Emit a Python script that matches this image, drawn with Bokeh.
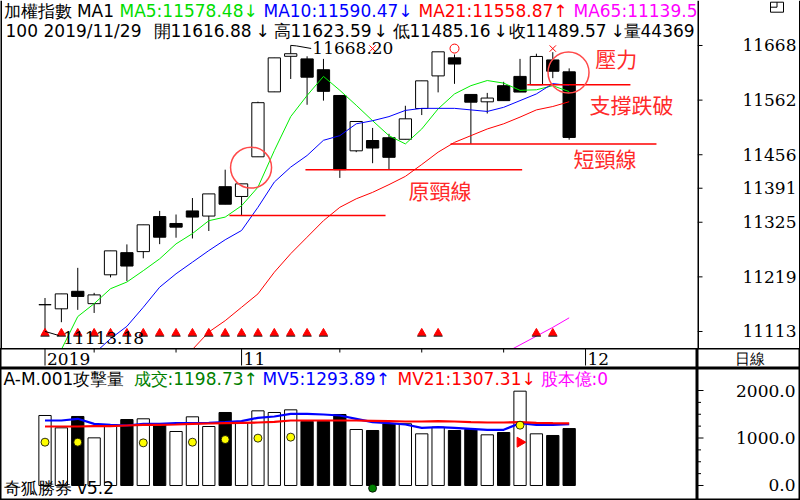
import numpy as np
from bokeh.plotting import figure
from bokeh.layouts import column, row
from bokeh.models import Range1d, Label, Span, ColumnDataSource
from bokeh.embed import file_html
from bokeh.resources import INLINE
from bokeh.core.properties import value

# ---------------- data ----------------
day_idx = list(range(33))          # trading days, last one = 2019/11/29
opens = [11165, 11157, 11191, 11167, 11223, 11266, 11268, 11336, 11322.6, 11347,
         11337, 11394, 11375, 11452, 11578, 11647, 11642, 11621, 11571, 11463.6,
         11483.6, 11489, 11486, 11545.7, 11609, 11644, 11573, 11558.7, 11590, 11608,
         11591.7, 11640, 11616.88]
highs = [11178, 11186, 11236.5, 11188, 11269.5, 11282, 11320, 11347, 11340, 11372,
         11380, 11427, 11399.5, 11559, 11644, 11668.20, 11647, 11642, 11571, 11520.5,
         11508, 11496.6, 11551, 11599.4, 11655.7, 11650.5, 11573, 11576, 11597.5, 11642,
         11652, 11655, 11623.59]
lows = [11113.18, 11131, 11155, 11149, 11218, 11211, 11255, 11282.5, 11295, 11293.5,
        11308, 11360, 11338, 11452, 11578, 11603, 11553, 11561, 11411, 11461,
        11439.6, 11427, 11486, 11533, 11577, 11593.6, 11477, 11536, 11561, 11577.6,
        11591.7, 11604.6, 11485.16]
closes = [11165, 11186, 11181, 11184, 11269.5, 11240, 11320, 11296, 11315.5, 11335,
          11380, 11360, 11399.5, 11557, 11644, 11652, 11606.5, 11579, 11427, 11520.5,
          11469, 11451, 11525.7, 11599.4, 11655.7, 11632, 11558, 11566, 11561, 11577.6,
          11646.7, 11618, 11489.57]
ma5 = [None, 11078, 11142, 11167, 11196, 11209, 11231, 11254, 11283, 11303,
       11328, 11335, 11357, 11393, 11464, 11530, 11571, 11608, 11581, 11552,
       11522, 11493, 11477, 11506, 11545, 11574, 11590, 11600, 11595, 11581,
       11582, 11590, 11578.48]
ma10 = [None, None, None, 11070, 11099, 11123, 11160, 11199, 11225, 11247.5,
        11270, 11291, 11309, 11354, 11403, 11432, 11454.5, 11484, 11493, 11516,
        11522, 11530, 11542, 11546, 11546, 11546, 11543, 11540, 11548, 11561,
        11574, 11594, 11590.47]
ma21 = [None] * 9 + [11078, 11112, 11134, 11160, 11186, 11228, 11264, 11296, 11328,
                     11354, 11370.5, 11383, 11398, 11414, 11437, 11461, 11480, 11493,
                     11506, 11516, 11529, 11543, 11549.6, 11558.87]
ma65 = [None] * 28 + [11070, 11087, 11104, 11121, 11139.5]

volume = [1474, 1214, 1453, 1003, 1249, 1389, 1404, 1284, 1137, 1446,
          1242, 1537, 1320, 1572, 1537, 1593, 1350, 1350, 1495, 1179,
          1158, 1298, 1300, 1088, 1228, 1158, 1179, 1067, 1116, 1986,
          1088, 1053, 1198.73]
mv5 = [1368, 1368, 1404, 1298, 1277, 1263, 1298, 1298, 1312, 1312,
       1319, 1333, 1354, 1425, 1453, 1509, 1509, 1495, 1474, 1404,
       1333, 1312, 1284, 1214, 1228, 1214, 1193, 1172, 1172, 1312,
       1277, 1277, 1293.89]
mv21 = [1242, 1242, 1242, 1249, 1249, 1263, 1277, 1277, 1284, 1298,
        1305, 1312, 1319, 1326, 1340, 1368, 1368, 1368, 1368, 1368,
        1361, 1354, 1347, 1347, 1354, 1347, 1333, 1326, 1326, 1333,
        1319, 1312, 1307.31]
yellow_idx = [0, 2, 6, 9, 11, 13, 15, 29]
yellow_val = [912, 912, 898, 912, 968, 997, 1018, 1270]
green_idx = [20]
green_val = [-57]
pointer_idx = [29]
pointer_val = [912]

price_ticks = [11113, 11219, 11325, 11391, 11456, 11562, 11668]
vol_ticks = [0, 1000, 2000]
vol_tick_text = ["0.0", "1000.0", "2000.0"]
vol_minor = [250, 500, 750, 1250, 1500, 1750]
date_tick_idx = [0, 3, 8, 12, 18, 23, 28, 33]
date_tick_text = ["2019", "", "", "11", "", "", "", "12"]

signal_idx = list(range(18)) + [23, 24, 30, 31]
x_mark_idx = [20, 31]
o_mark_idx = [25]

hl_start = [11.26, 15.9, 24.76, 29.44]
hl_end = [20.79, 29.13, 37.33, 35.74]
hl_level = [11338, 11427, 11477, 11592]
ann_text = ["壓力", "支撐跌破", "短頸線", "原頸線"]
ann_x = [33.6, 33.24, 32.26, 22.19]
ann_y = [11642.8, 11555.4, 11449.7, 11388.5]
ring_x = [12.58, 31.96]
ring_y = [11431, 11615.6]

hdr1_text = ["加權指數 MA1", "MA5:11578.48↓", "MA10:11590.47↓", "MA21:11558.87↑", "MA65:11139.5"]
hdr1_col = ["black", "#00dd00", "#0000ff", "#ff0000", "#ff00ff"]
hdr1_x = [3, 119, 263, 418, 573]
hdr2_text = ["100", "2019/11/29", "開11616.88", "↓", "高11623.59", "↓", "低11485.16", "↓",
             "收11489.57", "↓", "量44369"]
hdr2_x = [5, 43, 153, 255, 273, 373, 392, 493, 508, 610, 623]
vhdr_text = ["A-M.001攻擊量", "成交:1198.73↑", "MV5:1293.89↑", "MV21:1307.31↓", "股本億:0"]
vhdr_col = ["black", "#008000", "#0000ff", "#ff0000", "#ff00ff"]
vhdr_x = [3, 133, 262, 397, 540]

# ---------------- layout constants ----------------
W_L, W_R = 697, 103
H_M, H_D, H_V = 348, 20, 132
FS = "17px"
SANS = "DejaVu Sans"
SERIF = "DejaVu Serif"
CJK = "Noto Sans CJK TC"


def mkfig(w, h, xr, yr, outline=True):
    f = figure(width=w, height=h, x_range=xr, y_range=yr, title=None,
               output_backend="svg", toolbar_location=None, min_border=0,
               x_axis_location=None, y_axis_location=None,
               background_fill_color="white", border_fill_color="white")
    f.grid.visible = False
    f.outline_line_color = "black" if outline else None
    f.outline_line_width = 2
    f.extra_x_ranges = {"px": Range1d(0, w)}
    f.extra_y_ranges = {"px": Range1d(h, 0)}
    return f


def px_label(f, x, y, text, color="black", font=SANS, size=FS, align="left"):
    f.add_layout(Label(x=x, y=y, x_range_name="px", y_range_name="px", text=text,
                       text_color=color, text_font=font, text_font_size=size,
                       text_align=align, text_baseline="middle"))


xr = Range1d(-2.717, 39.835)
yr_main = Range1d(11080.0, 11755.3)
yr_vol = Range1d(-315.8, 2463.2)

# ---------------- main price panel ----------------
p = mkfig(W_L, H_M, xr, yr_main, outline=False)
p.add_layout(Span(location=-2.717, dimension="height", line_color="black", line_width=3))

src = ColumnDataSource(dict(
    x=day_idx, h=highs, l=lows,
    top=[max(o, c) for o, c in zip(opens, closes)],
    bot=[min(o, c) for o, c in zip(opens, closes)],
    fill=["white" if c >= o else "black" for o, c in zip(opens, closes)],
))
p.segment(x0="x", y0="l", x1="x", y1="h", source=src, line_color="black", line_width=1)
p.vbar(x="x", width=0.75, top="top", bottom="bot", fill_color="fill", line_color="black",
       line_width=1, source=src)

for ser, col in [(ma5, "#00ee00"), (ma10, "#0000ff"), (ma21, "#ff0000"), (ma65, "#ff00ff")]:
    p.line(day_idx, np.array(ser, dtype=float), line_color=col, line_width=1)

p.segment(x0=hl_start, y0=hl_level, x1=hl_end, y1=hl_level, line_color="#ff0000", line_width=1.5)
p.scatter(ring_x, ring_y, marker="circle", size=41, fill_color=None, line_color="#ff4a4a",
          line_width=1.5)
for t, x, y in zip(ann_text, ann_x, ann_y):
    p.add_layout(Label(x=x, y=y, text=t, text_color="#ff2a2a", text_font=CJK,
                       text_font_size="21px", text_baseline="middle"))

sig_y = [11110] * len(signal_idx)
p.scatter(signal_idx, sig_y, marker="triangle", size=8, fill_color="#ff0000", line_color="#ff0000")
p.scatter(signal_idx, [11104] * len(signal_idx), marker="dash", size=9, line_color="black", line_width=1)
p.scatter(x_mark_idx, [11662] * len(x_mark_idx), marker="x", size=9, line_color="#ff0000", line_width=1)
p.scatter(o_mark_idx, [11662] * len(o_mark_idx), marker="circle", size=9, fill_color=None,
          line_color="#ff0000", line_width=1)

hi_i = int(np.argmax(highs))
lo_i = int(np.argmin(lows))
p.line([hi_i, hi_i + 0.35, hi_i + 1.25], [highs[hi_i], highs[hi_i] - 1, highs[hi_i] - 6],
       line_color="black", line_width=1)
p.text([hi_i + 1.32], [highs[hi_i] - 5], text=[f"{highs[hi_i]:.2f}"], text_font=value(SERIF),
       text_font_size=FS, text_baseline="middle", text_color="black")
p.line([lo_i, lo_i + 0.85], [lows[lo_i], lows[lo_i] - 8], line_color="black", line_width=1)
p.text([lo_i + 1.1], [lows[lo_i] - 12], text=[f"{lows[lo_i]:.2f}"], text_font=value(SERIF),
       text_font_size=FS, text_baseline="middle", text_color="black")

for t, c, x in zip(hdr1_text, hdr1_col, hdr1_x):
    px_label(p, x, 10.8, t, color=c)
for t, x in zip(hdr2_text, hdr2_x):
    px_label(p, x, 30.3, t)

# right axis of price panel
pr = mkfig(W_R, H_M, Range1d(0, 103), yr_main, outline=False)
pr.add_layout(Span(location=0, dimension="height", line_color="black", line_width=3))
pr.add_layout(Span(location=103, dimension="height", line_color="black", line_width=3))
pr.segment(x0=[0] * len(price_ticks), y0=price_ticks, x1=[5] * len(price_ticks), y1=price_ticks,
           line_color="black", line_width=1)
pr.text([99] * len(price_ticks), price_ticks, text=[str(t) for t in price_ticks],
        text_font=value(SERIF), text_font_size=FS, text_align="right", text_baseline="middle",
        text_color="black")
# small window icon
pr.rect([79.5], [6.7], width=13, height=10, x_range_name="px", y_range_name="px",
        fill_color=None, line_color="black", line_width=1)
pr.segment(x0=[73, 79.5], y0=[6.7, 1.7], x1=[79.5, 79.5], y1=[6.7, 6.7], x_range_name="px",
           y_range_name="px", line_color="black", line_width=1)

# ---------------- date row ----------------
pdt = mkfig(W_L, H_D, xr, Range1d(20, 0))
tick_len = [17 if t else 4 for t in date_tick_text]
pdt.segment(x0=date_tick_idx, y0=[0] * len(date_tick_idx), x1=date_tick_idx, y1=tick_len,
            line_color="black", line_width=1)
lab_i = [i for i, t in zip(date_tick_idx, date_tick_text) if t]
lab_t = [t for t in date_tick_text if t]
pdt.text(lab_i, [10.8] * len(lab_i), text=lab_t, x_offset=2, text_font=value(SERIF),
         text_font_size=FS, text_baseline="middle", text_color="black")

pdr = mkfig(W_R, H_D, Range1d(0, 103), Range1d(20, 0))
pdr.text([52], [10.2], text=["日線"], text_font=value(SANS), text_font_size="15px",
         text_align="center", text_baseline="middle", text_color="black")

# ---------------- volume panel ----------------
pv = mkfig(W_L, H_V, xr, yr_vol)
vfill = ["white" if (i == 0 or closes[i] >= closes[i - 1]) else "black" for i in day_idx]
pv.vbar(x=day_idx, width=0.75, top=volume, bottom=0, fill_color=vfill, line_color="black",
        line_width=1)
pv.line(day_idx, mv5, line_color="#0000ff", line_width=2.2)
pv.line(day_idx, mv21, line_color="#ff0000", line_width=2.2)
pv.scatter(yellow_idx, yellow_val, marker="circle", size=8, fill_color="#ffff00",
           line_color="black", line_width=0.8)
pv.scatter(green_idx, green_val, marker="circle", size=8, fill_color="#008000",
           line_color="black", line_width=0.8)
pv.scatter(pointer_idx, pointer_val, marker="triangle", angle=-np.pi / 2, size=10,
           fill_color="#ff0000", line_color="#ff0000")
for t, c, x in zip(vhdr_text, vhdr_col, vhdr_x):
    px_label(pv, x, 10.0, t, color=c)
px_label(pv, 3, 119.5, "奇狐勝券 v5.2")

pvr = mkfig(W_R, H_V, Range1d(0, 103), yr_vol)
pvr.segment(x0=[0] * len(vol_ticks), y0=vol_ticks, x1=[6] * len(vol_ticks), y1=vol_ticks,
            line_color="black", line_width=1)
pvr.segment(x0=[0] * len(vol_minor), y0=vol_minor, x1=[3.5] * len(vol_minor), y1=vol_minor,
            line_color="black", line_width=1)
pvr.text([98] * len(vol_ticks), vol_ticks, text=vol_tick_text, text_font=value(SERIF),
         text_font_size=FS, text_align="right", text_baseline="middle", text_color="black")

layout = column(row(p, pr), row(pdt, pdr), row(pv, pvr))
open("out.html", "w").write(file_html(layout, INLINE))
